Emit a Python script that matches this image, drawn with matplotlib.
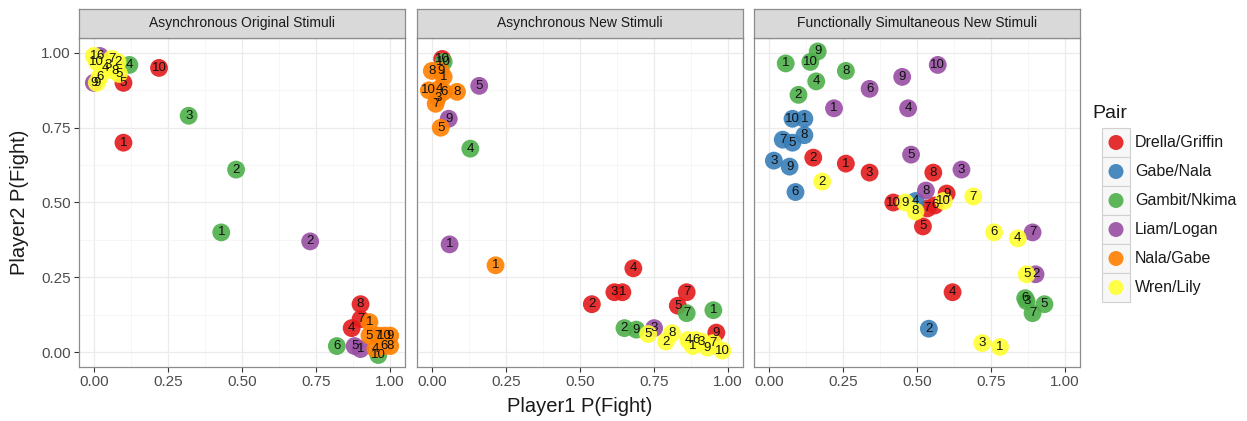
import matplotlib
matplotlib.use("Agg")
import matplotlib.pyplot as plt
from matplotlib.patches import Rectangle, Circle
from matplotlib.ticker import MultipleLocator

plt.rcParams['font.family'] = ['Liberation Sans', 'DejaVu Sans']

pairs = ["Drella/Griffin", "Gabe/Nala", "Gambit/Nkima", "Liam/Logan", "Nala/Gabe", "Wren/Lily"]
pair_colors = ["#E41A1C", "#377EB8", "#4DAF4A", "#984EA3", "#FF7F00", "#FFFF33"]
panel_titles = ["Asynchronous Original Stimuli", "Asynchronous New Stimuli",
                "Functionally Simultaneous New Stimuli"]

# ---- Panel 1: Asynchronous Original Stimuli (pair index, label, x, y)
p1_pair = [0, 0, 0, 0, 0, 0,
           2, 2, 2, 2, 2, 2,
           3, 3, 3, 3, 3,
           4, 4, 4, 4, 4, 4, 4, 4,
           5, 5, 5, 5, 5, 5, 5, 5, 5, 5]
p1_label = [10, 1, 5, 8, 7, 4,
            3, 2, 1, 4, 6, 10,
            2, 5, 1, 9, 6,
            1, 5, 7, 10, 9, 4, 6, 8,
            10, 1, 2, 5, 9, 6, 3, 4, 7, 8]
p1_x = [0.22, 0.10, 0.10, 0.90, 0.90, 0.87,
        0.32, 0.48, 0.43, 0.12, 0.82, 0.96,
        0.73, 0.88, 0.90, 0.00, 0.02,
        0.93, 0.93, 0.96, 0.98, 1.00, 0.95, 0.98, 1.00,
        0.01, 0.00, 0.08, 0.085, 0.01, 0.02, 0.05, 0.04, 0.06, 0.07]
p1_y = [0.95, 0.70, 0.90, 0.16, 0.11, 0.08,
        0.79, 0.61, 0.40, 0.96, 0.02, -0.01,
        0.37, 0.02, 0.01, 0.90, 0.99,
        0.10, 0.055, 0.055, 0.055, 0.055, 0.01, 0.02, 0.02,
        0.97, 0.99, 0.97, 0.93, 0.90, 0.92, 0.96, 0.95, 0.98, 0.94]

# ---- Panel 2: Asynchronous New Stimuli
p2_pair = [0, 0, 0, 0, 0, 0, 0, 0,
           2, 2, 2, 2, 2, 2,
           3, 3, 3, 3,
           4, 4, 4, 4, 4, 4, 4, 4, 4, 4, 4,
           5, 5, 5, 5, 5, 5, 5, 5, 5, 5]
p2_label = [10, 4, 1, 3, 2, 7, 5, 9,
            10, 4, 7, 1, 2, 9,
            5, 9, 1, 3,
            8, 9, 1, 10, 4, 6, 8, 3, 7, 5, 1,
            5, 8, 2, 4, 6, 1, 3, 9, 10, 7]
p2_x = [0.035, 0.68, 0.643, 0.616, 0.54, 0.86, 0.83, 0.96,
        0.04, 0.13, 0.86, 0.95, 0.65, 0.69,
        0.16, 0.057, 0.06, 0.75,
        0.00, 0.03, 0.04, -0.01, 0.025, 0.04, 0.085, 0.02, 0.013, 0.03, 0.215,
        0.73, 0.81, 0.79, 0.865, 0.89, 0.88, 0.91, 0.93, 0.98, 0.95]
p2_y = [0.98, 0.28, 0.20, 0.20, 0.16, 0.20, 0.155, 0.065,
        0.97, 0.68, 0.13, 0.14, 0.08, 0.075,
        0.89, 0.78, 0.36, 0.08,
        0.94, 0.94, 0.92, 0.875, 0.88, 0.87, 0.87, 0.85, 0.83, 0.75, 0.29,
        0.06, 0.063, 0.035, 0.04, 0.04, 0.02, 0.035, 0.015, 0.005, 0.03]

# ---- Panel 3: Functionally Simultaneous New Stimuli
p3_pair = [0, 0, 0, 0, 0, 0, 0, 0, 0, 0,
           1, 1, 1, 1, 1, 1, 1, 1, 1, 1,
           2, 2, 2, 2, 2, 2, 2, 2, 2, 2,
           3, 3, 3, 3, 3, 3, 3, 3, 3, 3,
           5, 5, 5, 5, 5, 5, 5, 5, 5, 5]
p3_label = [2, 1, 3, 8, 10, 7, 6, 5, 9, 4,
            10, 1, 8, 7, 5, 3, 9, 6, 4, 2,
            9, 10, 1, 8, 4, 2, 6, 5, 7, 3,
            10, 9, 6, 1, 4, 5, 3, 8, 7, 2,
            2, 7, 9, 8, 10, 1, 6, 4, 5, 3]
p3_x = [0.15, 0.26, 0.34, 0.555, 0.42, 0.535, 0.56, 0.52, 0.60, 0.62,
        0.08, 0.12, 0.12, 0.047, 0.08, 0.017, 0.07, 0.09, 0.495, 0.54,
        0.165, 0.14, 0.057, 0.26, 0.16, 0.10, 0.865, 0.93, 0.89, 0.87,
        0.57, 0.45, 0.34, 0.22, 0.47, 0.48, 0.65, 0.53, 0.89, 0.90,
        0.18, 0.69, 0.46, 0.495, 0.59, 0.78, 0.76, 0.84, 0.87, 0.72]
p3_y = [0.65, 0.63, 0.60, 0.60, 0.50, 0.48, 0.49, 0.42, 0.53, 0.20,
        0.78, 0.78, 0.725, 0.71, 0.70, 0.64, 0.62, 0.535, 0.505, 0.078,
        1.005, 0.97, 0.965, 0.94, 0.905, 0.86, 0.18, 0.16, 0.13, 0.17,
        0.96, 0.92, 0.88, 0.815, 0.815, 0.66, 0.61, 0.54, 0.40, 0.26,
        0.57, 0.52, 0.50, 0.47, 0.505, 0.017, 0.40, 0.38, 0.26, 0.03]

panels = [(p1_pair, p1_label, p1_x, p1_y),
          (p2_pair, p2_label, p2_x, p2_y),
          (p3_pair, p3_label, p3_x, p3_y)]

W, H = 1247, 421
fig = plt.figure(figsize=(W / 100, H / 100), dpi=100)

ax_lefts = [79, 417, 754]
ax_w = 326
ax_top, ax_bot = 38, 367
strip_top = 9

border_col = "#8C8C8C"
ticks = [0, 0.25, 0.5, 0.75, 1.0]
ticklabels = ["0.00", "0.25", "0.50", "0.75", "1.00"]

for i, (pp, ll, xx, yy) in enumerate(panels):
    left = ax_lefts[i]
    ax = fig.add_axes([left / W, (H - ax_bot) / H, ax_w / W, (ax_bot - ax_top) / H])
    ax.set_xlim(-0.05, 1.05)
    ax.set_ylim(-0.05, 1.05)
    ax.set_xticks(ticks)
    ax.set_xticklabels(ticklabels)
    ax.set_yticks(ticks)
    ax.set_yticklabels(ticklabels if i == 0 else [])
    ax.xaxis.set_minor_locator(MultipleLocator(0.125))
    ax.yaxis.set_minor_locator(MultipleLocator(0.125))
    ax.grid(True, which="major", color="#EBEBEB", linewidth=0.9)
    ax.grid(True, which="minor", color="#F3F3F3", linewidth=0.5)
    ax.set_axisbelow(True)
    for s in ax.spines.values():
        s.set_color(border_col)
        s.set_linewidth(0.9)
    ax.tick_params(which="major", length=3.5, width=0.8, color="#333333",
                   labelsize=11, labelcolor="#4D4D4D", pad=2.5)
    ax.tick_params(which="minor", length=0)
    if i != 0:
        ax.tick_params(axis="y", length=0)

    cols = [pair_colors[p] for p in pp]
    ax.scatter(xx, yy, s=165, c=cols, alpha=0.9, linewidths=0, zorder=2)
    for lab, x, y in zip(ll, xx, yy):
        ax.text(x, y, str(lab), ha="center", va="center", fontsize=9.5,
                color="#111111", zorder=3)

    # strip
    sax = fig.add_axes([left / W, (H - ax_top) / H, ax_w / W, (ax_top - strip_top) / H])
    sax.set_xticks([])
    sax.set_yticks([])
    sax.set_facecolor("#D9D9D9")
    for s in sax.spines.values():
        s.set_color(border_col)
        s.set_linewidth(0.9)
    sax.text(0.5, 0.5, panel_titles[i], ha="center", va="center",
             fontsize=10, color="#1A1A1A", transform=sax.transAxes)

fig.text((417 + 163) / W, 1 - 406 / H, "Player1 P(Fight)", ha="center",
         va="center", fontsize=14.5, color="#1A1A1A")
fig.text(20 / W, 1 - 202 / H, "Player2 P(Fight)", ha="center", va="center",
         rotation=90, fontsize=14.5, color="#1A1A1A")

# legend
lax = fig.add_axes([0, 0, 1, 1], facecolor="none")
lax.set_xlim(0, W)
lax.set_ylim(H, 0)
lax.axis("off")
lax.text(1092, 113, "Pair", ha="left", va="center", fontsize=14, color="#1A1A1A")
for k, (name, col) in enumerate(zip(pairs, pair_colors)):
    yc = 142.5 + k * 29
    lax.add_patch(Rectangle((1102, yc - 14.5), 28, 29, facecolor="#F7F7F7",
                            edgecolor="#D0D0D0", linewidth=0.8))
    lax.add_patch(Circle((1116, yc), 7.5, facecolor=col, edgecolor="none", alpha=0.9))
    lax.text(1135, yc, name, ha="left", va="center", fontsize=11.5, color="#1A1A1A")

fig.savefig("out.png", dpi=100)
